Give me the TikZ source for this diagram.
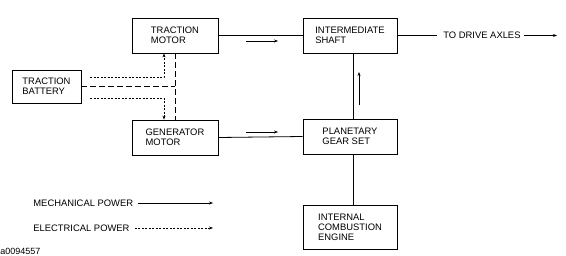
\documentclass[tikz,border=0pt]{standalone}
\usepackage{fontspec}
\setmainfont{Liberation Sans}
\usetikzlibrary{arrows.meta}
\begin{document}
\begin{tikzpicture}[x=1pt,y=-1pt,line width=0.8pt,
  box/.style={draw,align=left,inner sep=0pt,font=\fontsize{9.4}{10}\selectfont},
  lbl/.style={inner sep=0pt,font=\fontsize{9.4}{10}\selectfont},
  arr/.style={-{Stealth[length=4pt,width=3pt]}},
  elec/.style={dash pattern=on 2pt off 1.5pt},
  longdash/.style={dash pattern=on 6pt off 3pt}]
\useasboundingbox (0,0) rectangle (566,255);
% boxes
\node[box,minimum width=86pt,minimum height=35pt] (tm) at (175,35.5) {TRACTION\\MOTOR};
\node[box,minimum width=69pt,minimum height=33pt] (tb) at (46.5,86.5) {TRACTION\\BATTERY};
\node[box,minimum width=86pt,minimum height=35pt] (gm) at (175,137.5) {GENERATOR\\MOTOR};
\node[box,minimum width=94pt,minimum height=35pt] (is) at (350,35.5) {INTERMEDIATE\\SHAFT};
\node[box,minimum width=94pt,minimum height=35pt] (pg) at (350,136.5) {PLANETARY\\GEAR SET};
\node[box,minimum width=94pt,minimum height=44pt] (ice) at (350,227) {INTERNAL\\COMBUSTION\\ENGINE};
% mechanical connections
\draw (tm.east) -- (is.west);
\draw (gm.east) -- (pg.west);
\draw (pg.north -| 353,0) -- (is.south -| 353,0);
\draw (pg.south -| 353,0) -- (ice.north -| 353,0);
\coordinate (ax) at (437,35.5);
\draw (is.east) -- (ax);
\node[lbl,anchor=west] (axl) at (443,35.5) {TO DRIVE AXLES};
\coordinate (axe) at (557,35.5);
\draw[arr] (axl.east) ++(3,0) -- (axe);
% small direction arrows
\coordinate (a1s) at (246,41); \coordinate (a1e) at (278,41);
\draw[arr] (a1s) -- (a1e);
\coordinate (a2s) at (246,132); \coordinate (a2e) at (278,132);
\draw[arr] (a2s) -- (a2e);
\coordinate (a3s) at (359,105); \coordinate (a3e) at (359,72);
\draw[arr] (a3s) -- (a3e);
% electrical connections
\coordinate (e1) at (90,77); \coordinate (e1c) at (164,77);
\draw[elec,arr] (e1) -- (e1c) -- (tm.south -| e1c);
\coordinate (e2) at (90,98); \coordinate (e2c) at (164,98);
\draw[elec,arr] (e2) -- (e2c) -- (gm.north -| e2c);
\coordinate (m1) at (175,86.5);
\draw[longdash] (tb.east) -- (m1);
\draw[longdash] (tm.south -| m1) -- (gm.north -| m1);
% legend
\node[lbl,anchor=west] (lm) at (33,203) {MECHANICAL POWER};
\coordinate (lme) at (213,203);
\draw[arr] (lm.east) ++(4,0) -- (lme);
\node[lbl,anchor=west] (le) at (33,228) {ELECTRICAL POWER};
\coordinate (lee) at (213,228);
\draw[arr,elec] (le.east) ++(5,0) -- (lee);
\node[anchor=west,inner sep=0pt,font=\fontsize{9}{10}\selectfont] (id) at (0,251) {a0094557};
\end{tikzpicture}
\end{document}
